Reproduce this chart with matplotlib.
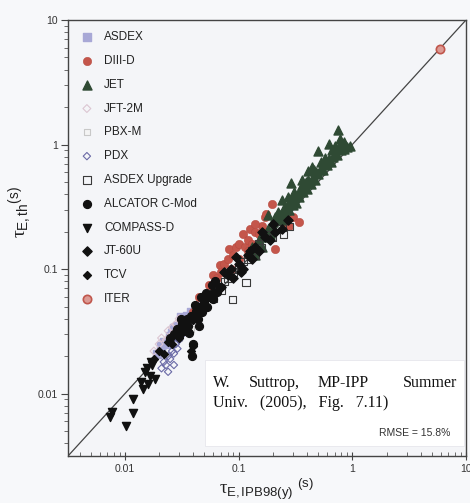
import matplotlib
matplotlib.use("Agg")
import matplotlib.pyplot as plt
from matplotlib import ticker
from matplotlib.patches import Rectangle

plt.rcParams['font.family'] = ['Liberation Sans', 'DejaVu Sans']
plt.rcParams['mathtext.fontset'] = 'custom'
plt.rcParams['mathtext.rm'] = 'Liberation Serif'
plt.rcParams['mathtext.it'] = 'Liberation Serif'
plt.rcParams['mathtext.sf'] = 'Liberation Sans'

# ---------------- data ----------------
asdex_x = [0.019, 0.021, 0.022, 0.024, 0.025, 0.026, 0.028, 0.029, 0.030, 0.032,
           0.033, 0.035, 0.036, 0.038, 0.040, 0.042, 0.045, 0.048, 0.027, 0.031]
asdex_y = [0.021, 0.024, 0.026, 0.025, 0.029, 0.031, 0.030, 0.035, 0.033, 0.038,
           0.036, 0.042, 0.040, 0.045, 0.043, 0.050, 0.048, 0.055, 0.034, 0.041]

diiid_x = [0.055, 0.06, 0.065, 0.068, 0.07, 0.075, 0.08, 0.083, 0.085, 0.09,
           0.095, 0.10, 0.10, 0.11, 0.115, 0.12, 0.125, 0.13, 0.14, 0.15,
           0.16, 0.17, 0.174, 0.18, 0.196, 0.21, 0.22, 0.24, 0.26, 0.28,
           0.30, 0.337, 0.045, 0.05, 0.04, 0.12, 0.14]
diiid_y = [0.075, 0.09, 0.085, 0.107, 0.095, 0.11, 0.12, 0.144, 0.10, 0.13,
           0.15, 0.16, 0.12, 0.19, 0.15, 0.17, 0.21, 0.16, 0.20, 0.19,
           0.22, 0.26, 0.278, 0.20, 0.335, 0.144, 0.25, 0.27, 0.24, 0.22,
           0.26, 0.239, 0.06, 0.052, 0.045, 0.14, 0.23]

jet_x = [0.13, 0.14, 0.15, 0.16, 0.16, 0.17, 0.18, 0.19, 0.20, 0.20,
         0.21, 0.22, 0.23, 0.24, 0.25, 0.25, 0.26, 0.27, 0.28, 0.29,
         0.30, 0.31, 0.32, 0.33, 0.34, 0.35, 0.37, 0.38, 0.40, 0.41,
         0.43, 0.45, 0.47, 0.48, 0.50, 0.52, 0.55, 0.57, 0.60, 0.62,
         0.65, 0.68, 0.70, 0.73, 0.76, 0.80, 0.85, 0.90, 0.95, 0.29,
         0.41, 0.50, 0.75, 0.62, 0.36, 0.44, 0.24, 0.18,
         0.22, 0.27, 0.31, 0.36, 0.39, 0.46, 0.53, 0.58, 0.66, 0.71, 0.78, 0.84]
jet_y = [0.15, 0.13, 0.17, 0.15, 0.19, 0.18, 0.21, 0.19, 0.24, 0.21,
         0.26, 0.25, 0.27, 0.25, 0.31, 0.27, 0.30, 0.33, 0.30, 0.36,
         0.33, 0.37, 0.34, 0.40, 0.38, 0.43, 0.42, 0.46, 0.44, 0.52,
         0.48, 0.55, 0.52, 0.60, 0.58, 0.63, 0.62, 0.70, 0.68, 0.76,
         0.72, 0.80, 0.85, 0.82, 0.95, 0.90, 0.92, 0.96, 0.98, 0.49,
         0.61, 0.88, 1.30, 1.02, 0.52, 0.66, 0.36, 0.27,
         0.29, 0.38, 0.42, 0.47, 0.50, 0.62, 0.72, 0.78, 0.90, 0.98, 1.10, 1.05]

jft_x = [0.018, 0.020, 0.021, 0.023, 0.024, 0.026, 0.028, 0.030]
jft_y = [0.022, 0.025, 0.028, 0.027, 0.032, 0.034, 0.036, 0.040]

pbx_x = [0.030, 0.034, 0.038, 0.042, 0.047, 0.052]
pbx_y = [0.028, 0.035, 0.033, 0.040, 0.045, 0.050]

pdx_x = [0.021, 0.022, 0.023, 0.024, 0.025, 0.026, 0.027, 0.028, 0.029, 0.030,
         0.031, 0.024, 0.027]
pdx_y = [0.016, 0.018, 0.017, 0.020, 0.019, 0.022, 0.021, 0.025, 0.023, 0.027,
         0.029, 0.015, 0.017]

aug_x = [0.045, 0.05, 0.055, 0.06, 0.065, 0.07, 0.075, 0.08, 0.088, 0.09,
         0.10, 0.11, 0.116, 0.12, 0.13, 0.14, 0.15, 0.16, 0.18, 0.20,
         0.22, 0.25, 0.28]
aug_y = [0.048, 0.05, 0.06, 0.058, 0.07, 0.068, 0.08, 0.085, 0.057, 0.095,
         0.10, 0.115, 0.078, 0.12, 0.14, 0.13, 0.16, 0.15, 0.19, 0.18,
         0.21, 0.19, 0.22]

cmod_x = [0.025, 0.027, 0.029, 0.030, 0.032, 0.033, 0.035, 0.036, 0.038, 0.039,
          0.040, 0.042, 0.044, 0.046, 0.048, 0.050, 0.053, 0.056, 0.060, 0.064,
          0.068, 0.034, 0.045, 0.037, 0.041, 0.052, 0.058, 0.031, 0.047, 0.062]
cmod_y = [0.028, 0.030, 0.033, 0.029, 0.036, 0.032, 0.040, 0.035, 0.042, 0.020,
          0.025, 0.046, 0.040, 0.050, 0.045, 0.055, 0.050, 0.060, 0.058, 0.066,
          0.072, 0.038, 0.035, 0.031, 0.052, 0.064, 0.075, 0.040, 0.060, 0.080]

compass_x = [0.0074, 0.0077, 0.0102, 0.0117, 0.0117, 0.0144, 0.0149, 0.0165,
             0.0172, 0.0183, 0.0159, 0.0169, 0.0140, 0.0155]
compass_y = [0.0065, 0.0071, 0.0055, 0.0091, 0.0070, 0.0110, 0.0150, 0.0140,
             0.0169, 0.0132, 0.0120, 0.0180, 0.0125, 0.0160]

jt60_x = [0.06, 0.07, 0.08, 0.09, 0.10, 0.11, 0.12, 0.13, 0.14, 0.15,
          0.17, 0.19, 0.21, 0.24, 0.27, 0.085, 0.105, 0.125, 0.075, 0.095,
          0.16, 0.20]
jt60_y = [0.065, 0.072, 0.09, 0.085, 0.11, 0.10, 0.13, 0.12, 0.15, 0.14,
          0.18, 0.17, 0.20, 0.21, 0.25, 0.10, 0.095, 0.14, 0.095, 0.125,
          0.20, 0.23]

tcv_x = [0.018, 0.020, 0.022, 0.024, 0.026, 0.028, 0.030, 0.033, 0.036, 0.040,
         0.044, 0.048, 0.040, 0.038]
tcv_y = [0.019, 0.022, 0.021, 0.026, 0.025, 0.030, 0.028, 0.034, 0.032, 0.039,
         0.043, 0.047, 0.024, 0.022]

iter_x = [5.9]
iter_y = [5.9]

axis_min = 10 ** -2.5
axis_max = 10.0
major_ticks = [0.01, 0.1, 1, 10]
rmse_text = "RMSE = 15.8%"

# ---------------- figure ----------------
fig = plt.figure(figsize=(4.7, 5.03), dpi=100, facecolor='#f7f8fa')
ax = fig.add_axes([68 / 470, 1 - 456 / 503, 398 / 470, 436 / 503])
ax.set_facecolor('#f4f5f8')
ax.set_xscale('log')
ax.set_yscale('log')
ax.set_xlim(axis_min, axis_max)
ax.set_ylim(axis_min, axis_max)

ax.plot([axis_min, axis_max], [axis_min, axis_max], color='#444444', lw=0.9, zorder=1)

kw = dict(zorder=2)
ax.scatter(asdex_x, asdex_y, marker='s', s=30, c='#a8a8d6', edgecolors='#a8a8d6', label='ASDEX', **kw)
ax.scatter(diiid_x, diiid_y, marker='o', s=36, c='#c4564b', edgecolors='#b84a40', linewidths=0.4, label='DIII-D', **kw)
ax.scatter(jet_x, jet_y, marker='^', s=42, c='#2f4a34', edgecolors='#2f4a34', label='JET', **kw)
ax.scatter(jft_x, jft_y, marker='D', s=16, facecolors='none', edgecolors='#dcc6d2', linewidths=0.8, label='JFT-2M', **kw)
ax.scatter(pbx_x, pbx_y, marker='s', s=22, facecolors='#f4f4f4', edgecolors='#c8c8c8', linewidths=0.8, label='PBX-M', **kw)
ax.scatter(pdx_x, pdx_y, marker='D', s=14, facecolors='none', edgecolors='#6a6aa6', linewidths=0.8, label='PDX', **kw)
ax.scatter(aug_x, aug_y, marker='s', s=28, facecolors='none', edgecolors='#3a3a3a', linewidths=0.8, label='ASDEX Upgrade', **kw)
ax.scatter(cmod_x, cmod_y, marker='o', s=32, c='#111111', label='ALCATOR C-Mod', **kw)
ax.scatter(compass_x, compass_y, marker='v', s=34, c='#111111', label='COMPASS-D', **kw)
ax.scatter(jt60_x, jt60_y, marker='D', s=22, c='#111111', label='JT-60U', **kw)
ax.scatter(tcv_x, tcv_y, marker='D', s=16, c='#111111', label='TCV', **kw)
ax.scatter(iter_x, iter_y, marker='o', s=36, facecolors='#dc9a94', edgecolors='#c0564c', linewidths=1.2, label='ITER', **kw)

# axes styling
for sp in ax.spines.values():
    sp.set_color('#444444')
    sp.set_linewidth(1.0)

ax.xaxis.set_major_locator(ticker.FixedLocator(major_ticks))
ax.yaxis.set_major_locator(ticker.FixedLocator(major_ticks))
ax.xaxis.set_minor_locator(ticker.LogLocator(base=10, subs=range(2, 10), numticks=20))
ax.yaxis.set_minor_locator(ticker.LogLocator(base=10, subs=range(2, 10), numticks=20))
fmt = ticker.FuncFormatter(lambda v, p: f'{v:g}')
ax.xaxis.set_major_formatter(fmt)
ax.yaxis.set_major_formatter(fmt)
ax.xaxis.set_minor_formatter(ticker.NullFormatter())
ax.yaxis.set_minor_formatter(ticker.NullFormatter())

ax.tick_params(axis='x', which='major', direction='inout', length=6, width=0.8,
               colors='#444444', labelsize=7.5, labelcolor='#333333', pad=3)
ax.tick_params(axis='x', which='minor', direction='in', length=3, width=0.6, colors='#555555')
ax.tick_params(axis='y', which='major', direction='out', length=5, width=0.8,
               colors='#444444', labelsize=7.5, labelcolor='#333333', pad=2)
ax.tick_params(axis='y', which='minor', direction='out', length=3, width=0.6, colors='#555555')

ax.set_xlabel(r'$\tau_{\mathsf{E,IPB98(y)}}\ {}^{\mathsf{(s)}}$', fontsize=13.5, color='#222222')
ax.set_ylabel(r'$\tau_{\mathsf{E,th}}{}^{\mathsf{(s)}}$', fontsize=14, color='#222222')
ax.xaxis.set_label_coords(0.50, -0.048)
ax.yaxis.set_label_coords(-0.085, 0.56)

leg = ax.legend(loc='upper left', bbox_to_anchor=(0.0, 1.0), frameon=False,
                fontsize=8.5, labelspacing=1.0, handletextpad=0.8,
                borderaxespad=0.55, handlelength=1.3, scatterpoints=1)
for t in leg.get_texts():
    t.set_color('#222222')

# annotation box
ax.add_patch(Rectangle((0.344, 0.022), 0.652, 0.198, transform=ax.transAxes,
                       facecolor='white', edgecolor='#e6e6ec', lw=0.6, zorder=3))
serif = dict(family=['Liberation Serif', 'DejaVu Serif'], fontsize=11.5,
             color='#111111', transform=ax.transAxes, zorder=4, va='center')
ax.text(0.364, 0.167, 'W.', ha='left', **serif)
ax.text(0.455, 0.167, 'Suttrop,', ha='left', **serif)
ax.text(0.628, 0.167, 'MP-IPP', ha='left', **serif)
ax.text(0.977, 0.167, 'Summer', ha='right', **serif)
ax.text(0.364, 0.122, 'Univ.   (2005),   Fig.   7.11)', ha='left', **serif)
ax.text(0.96, 0.053, rmse_text, ha='right', va='center', fontsize=7.5,
        color='#333333', transform=ax.transAxes, zorder=4)

fig.savefig('out.png', dpi=100, facecolor=fig.get_facecolor())
